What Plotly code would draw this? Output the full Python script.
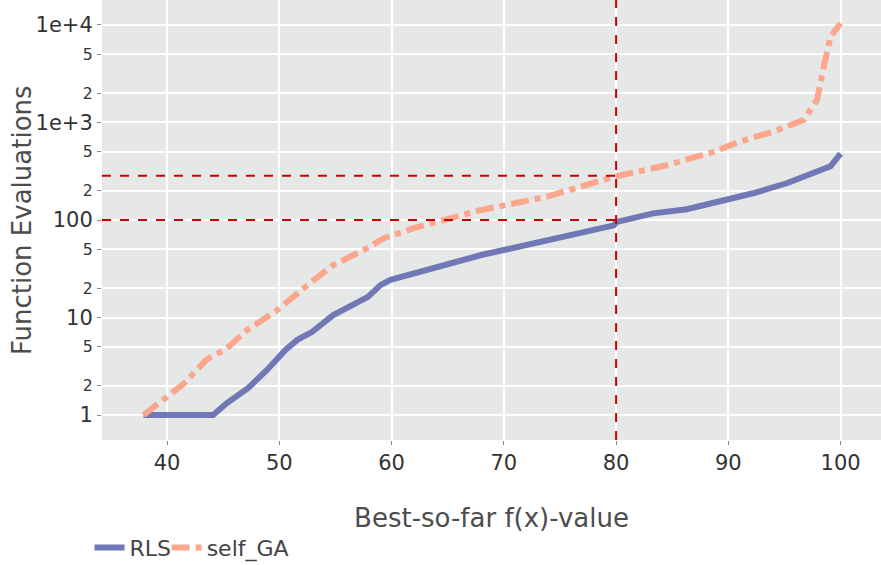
import plotly.graph_objects as go

rls_x = [37.9, 44.1, 45.3, 47.2, 48.9, 50.5, 51.6, 52.9, 54.8, 56.9, 57.9, 59.0, 59.9, 67.9, 79.8, 80.0, 83.3, 86.3, 90.2, 92.2, 95.2, 97.6, 99.1, 100.0]
rls_y = [1.0, 1.0, 1.32, 1.88, 2.9, 4.6, 5.9, 7.1, 10.6, 14.5, 16.3, 21.5, 24.3, 43.5, 88, 95, 117, 129, 163, 188, 238, 302, 355, 480]

ga_x = [37.9, 39.7, 41.5, 43.5, 45.3, 47.1, 49.8, 52.7, 54.8, 57.5, 59.3, 61.9, 64.0, 67.9, 73.8, 79.8, 84.5, 88.7, 91.0, 94.0, 96.7, 97.9, 98.5, 99.1, 100.0]
ga_y = [1.0, 1.43, 2.1, 3.7, 4.8, 7.4, 11.9, 22.4, 34.5, 49, 65, 82, 96, 126, 173, 277, 364, 500, 637, 805, 1060, 1700, 3720, 7600, 10400]

target_x = 80
rls_at_target = 100
ga_at_target = 285

fig = go.Figure()
fig.add_trace(go.Scatter(x=rls_x, y=rls_y, mode="lines", name="RLS", legend="legend",
                         line=dict(color="#7079b6", width=6)))
fig.add_trace(go.Scatter(x=ga_x, y=ga_y, mode="lines", name="self_GA", legend="legend2",
                         line=dict(color="#fba68d", width=6, dash="dashdot")))

red = dict(color="#cc0000", width=2, dash="dash")
fig.add_shape(type="line", xref="x", yref="paper", x0=target_x, x1=target_x, y0=0, y1=1, line=red, layer="above")
fig.add_shape(type="line", xref="x", yref="y", x0=34.2, x1=target_x, y0=rls_at_target, y1=rls_at_target, line=red, layer="above")
fig.add_shape(type="line", xref="x", yref="y", x0=34.2, x1=target_x, y0=ga_at_target, y1=ga_at_target, line=red, layer="above")

fig.add_annotation(text="Function Evaluations", xref="paper", yref="paper",
                   x=-0.1027, y=0.5, xanchor="center", yanchor="middle", textangle=-90,
                   showarrow=False, font=dict(size=26, color="#4d4d4d"))

font_family = "DejaVu Sans"
leg_common = dict(orientation="h", xanchor="left", y=-0.245, yanchor="middle",
                  font=dict(size=22, color="#444444"), bgcolor="rgba(0,0,0,0)")
fig.update_layout(
    width=881, height=565,
    margin=dict(l=102, r=0, t=0, b=125, autoexpand=False),
    paper_bgcolor="white",
    plot_bgcolor="#e6e7e7",
    font=dict(family=font_family, color="#444444"),
    showlegend=True,
    legend=dict(x=-0.016, **leg_common),
    legend2=dict(x=0.083, **leg_common),
    xaxis=dict(range=[34.2, 103.6], dtick=10, tick0=0, automargin=False,
               title=dict(text="Best-so-far f(x)-value", font=dict(size=26, color="#4d4d4d"), standoff=34),
               tickfont=dict(size=21, color="#333333"),
               gridcolor="white", gridwidth=1.5, showline=False, zeroline=False,
               ticks="outside", ticklen=4, tickcolor="#888888"),
    yaxis=dict(type="log", range=[-0.256, 4.256], dtick="D2", exponentformat="e", automargin=False,
               tickfont=dict(size=21, color="#333333"),
               gridcolor="white", gridwidth=1.5, showline=False, zeroline=False,
               ticks="outside", ticklen=4, tickcolor="#888888"),
)

fig.write_html("out.html", config={"displayModeBar": False},
               post_script="document.body.style.margin='0';")
